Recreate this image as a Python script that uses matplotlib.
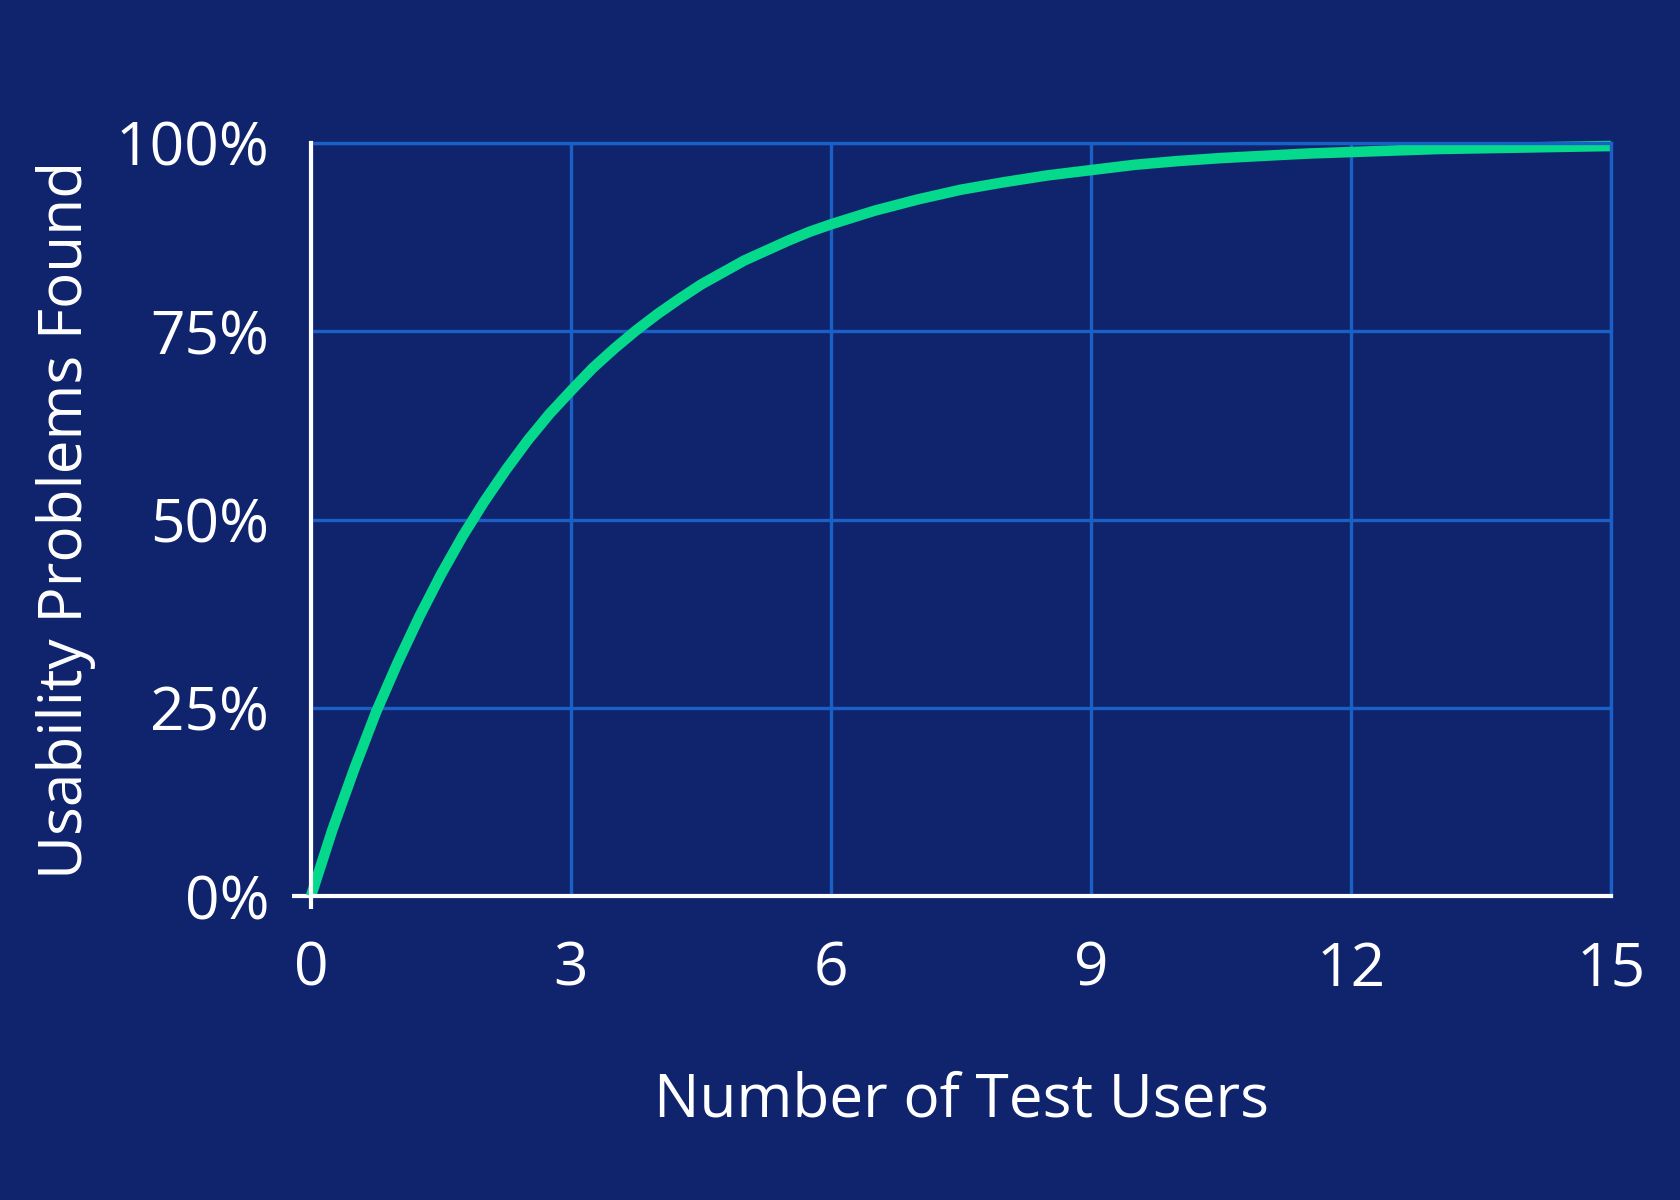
import matplotlib
matplotlib.use("Agg")
import matplotlib.pyplot as plt
from matplotlib.ticker import FuncFormatter

# ── data ────────────────────────────────────────────────────────────────────
users = [0, 0.25, 0.5, 0.75, 1, 1.25, 1.5, 1.75, 2, 2.25, 2.5, 2.75, 3,
         3.25, 3.5, 3.75, 4, 4.25, 4.5, 4.75, 5, 5.25, 5.5, 5.75, 6,
         6.5, 7, 7.5, 8, 8.5, 9, 9.5, 10, 10.5, 11, 11.5, 12, 12.5,
         13, 13.5, 14, 14.5, 15]
found_pct = [0, 8.9, 16.9, 24.4, 31.0, 37.1, 42.7, 47.8, 52.4, 56.6,
             60.5, 64.0, 67.1, 70.1, 72.7, 75.1, 77.3, 79.3, 81.2, 82.8,
             84.4, 85.7, 87.0, 88.2, 89.2, 91.0, 92.5, 93.8, 94.8, 95.7,
             96.4, 97.1, 97.6, 98.0, 98.3, 98.6, 98.8, 99.0, 99.2, 99.3,
             99.4, 99.5, 99.6]

x_ticks = [0, 3, 6, 9, 12, 15]
y_ticks = [0, 25, 50, 75, 100]

BG    = "#10246d"
GRID  = "#1a60c6"
GREEN = "#05d98b"
WHITE = "#ffffff"

plt.rcParams["font.family"] = ["Open Sans", "DejaVu Sans"]

fig = plt.figure(figsize=(16.8, 12), dpi=100, facecolor=BG)
ax = fig.add_axes([311 / 1680, 1 - 896 / 1200, 1300 / 1680, 753 / 1200])
ax.set_facecolor(BG)

ax.plot(users, found_pct, color=GREEN, lw=7.6, solid_capstyle="butt",
        solid_joinstyle="round", clip_on=False, zorder=2)

ax.set_xlim(0, 15)
ax.set_ylim(0, 100)
ax.set_xticks(x_ticks)
ax.set_yticks(y_ticks)
ax.yaxis.set_major_formatter(FuncFormatter(lambda v, p: f"{v:.0f}%"))

ax.grid(True, color=GRID, lw=2.4, zorder=1)
ax.set_axisbelow(True)

for side in ("top", "right"):
    ax.spines[side].set_color(GRID)
    ax.spines[side].set_linewidth(2.4)
for side in ("left", "bottom"):
    ax.spines[side].set_color(WHITE)
    ax.spines[side].set_linewidth(3)
    ax.spines[side].set_zorder(3)

ax.tick_params(axis="y", length=14, width=3, color=WHITE, pad=16,
               labelsize=43.5, labelcolor=WHITE)
ax.tick_params(axis="x", length=9.5, width=3, color=WHITE, pad=22,
               labelsize=43.5, labelcolor=WHITE)
# only the origin carries a tick mark
for t in ax.xaxis.get_major_ticks()[1:] + ax.yaxis.get_major_ticks()[1:]:
    t.tick1line.set_visible(False)

ax.set_xlabel("Number of Test Users", fontsize=43.5, color=WHITE)
ax.set_ylabel("Usability Problems Found", fontsize=43.5, color=WHITE)
ax.xaxis.set_label_coords(0.5, -0.232)
ax.yaxis.set_label_coords(-0.165, 0.5)

fig.savefig("out.png", dpi=100, facecolor=BG)
